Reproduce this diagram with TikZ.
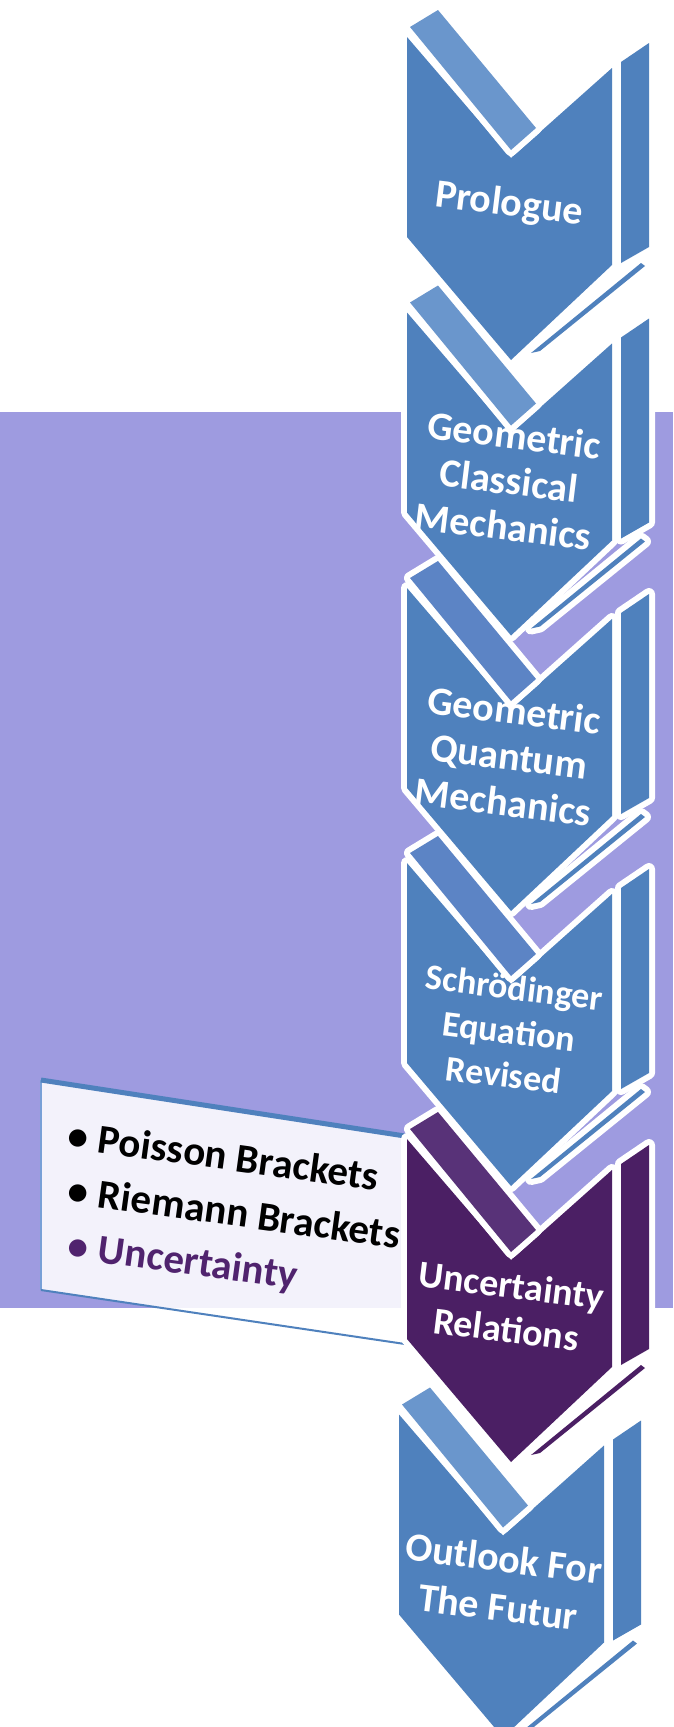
\documentclass[tikz,border=0pt]{standalone}
\usepackage{fontspec}
\setmainfont{Carlito}
\definecolor{cblue}{RGB}{79,129,189}
\definecolor{sbluew}{RGB}{106,150,204}
\definecolor{sbluep}{RGB}{92,132,197}
\definecolor{cpurple}{RGB}{75,31,100}
\definecolor{spurple}{RGB}{88,50,120}
\definecolor{bgpurple}{RGB}{158,155,224}
\definecolor{txtpurple}{RGB}{80,35,110}
\definecolor{edgeblue}{RGB}{120,160,215}
\tikzset{
  piece/.style={fill=#1, preaction={draw=white, line width=12, line join=round}},
  ctext/.style={text=white, inner sep=0pt, align=center, rotate=-7},
  btext/.style={font=\bfseries\fontsize{41}{48}\selectfont, anchor=base west, rotate=-7.8, inner sep=0pt},
}
% #1 x, #2 y, #3 colour, #4 node name, #5 text, #6 font size, #7 line skip, #8 stripe colour
\newcommand\chevpiece[8]{%
\begin{scope}[shift={(#1,#2)}]
 \fill[piece=#3] (0,0) -- (104,121) -- (205,31) -- (205,228) -- (104,323) -- (0,200) -- cycle;
 \node[ctext, font=\bfseries\fontsize{#6}{#7}\selectfont] (#4) at (102,168) {#5};
 \fill[piece=#8] (3,-10) -- (31,-27) -- (129,91) -- (104,113) -- cycle;
 \fill[piece=#3] (214,25) -- (242,6) -- (242,210) -- (214,226) -- cycle;
 \fill[piece=#3] (234,226) -- (124,316) -- (133,314) -- (238,229) -- cycle;
\end{scope}}
\begin{document}
\begin{tikzpicture}[x=1pt,y=-1pt]
\useasboundingbox (0,0) rectangle (673,1727);
\clip (0,0) rectangle (673,1727);
\fill[white] (0,0) rectangle (673,1727);
\fill[bgpurple] (0,412) rectangle (673,1308);
\chevpiece{407}{37}{cblue}{c1}{Prologue}{40}{46}{sbluew}
\chevpiece{407}{312.5}{cblue}{c2}{Geometric\\Classical\\Mechanics}{40}{46}{sbluew}
\chevpiece{407}{588}{cblue}{c3}{Geometric\\Quantum\\Mechanics}{40}{46}{sbluep}
\chevpiece{407}{863}{cblue}{c4}{Schrödinger\\Equation\\Revised}{36}{44}{sbluep}
% text panel
\fill[white, fill opacity=0.88] (41,1080) -- (405,1136) -- (405,1344) -- (41,1290) -- cycle;
\draw[edgeblue, line width=2] (41,1080) -- (41,1290);
\draw[cblue, line width=2] (41,1290) -- (405,1344);
\draw[cblue, line width=5] (41,1080) -- (405,1136);
\node[btext] (b1) at (66,1148) {\makebox[31pt][l]{•}Poisson Brackets};
\node[btext] (b2) at (66,1203) {\makebox[31pt][l]{•}Riemann Brackets};
\node[btext, text=txtpurple] (b3) at (66,1258) {\makebox[31pt][l]{•}Uncertainty};
\chevpiece{407}{1139}{cpurple}{c5}{Uncertainty\\Relations}{38}{44}{spurple}
\chevpiece{399}{1414.5}{cblue}{c6}{Outlook For\\The Futur}{40}{49}{sbluew}
\end{tikzpicture}
\end{document}
